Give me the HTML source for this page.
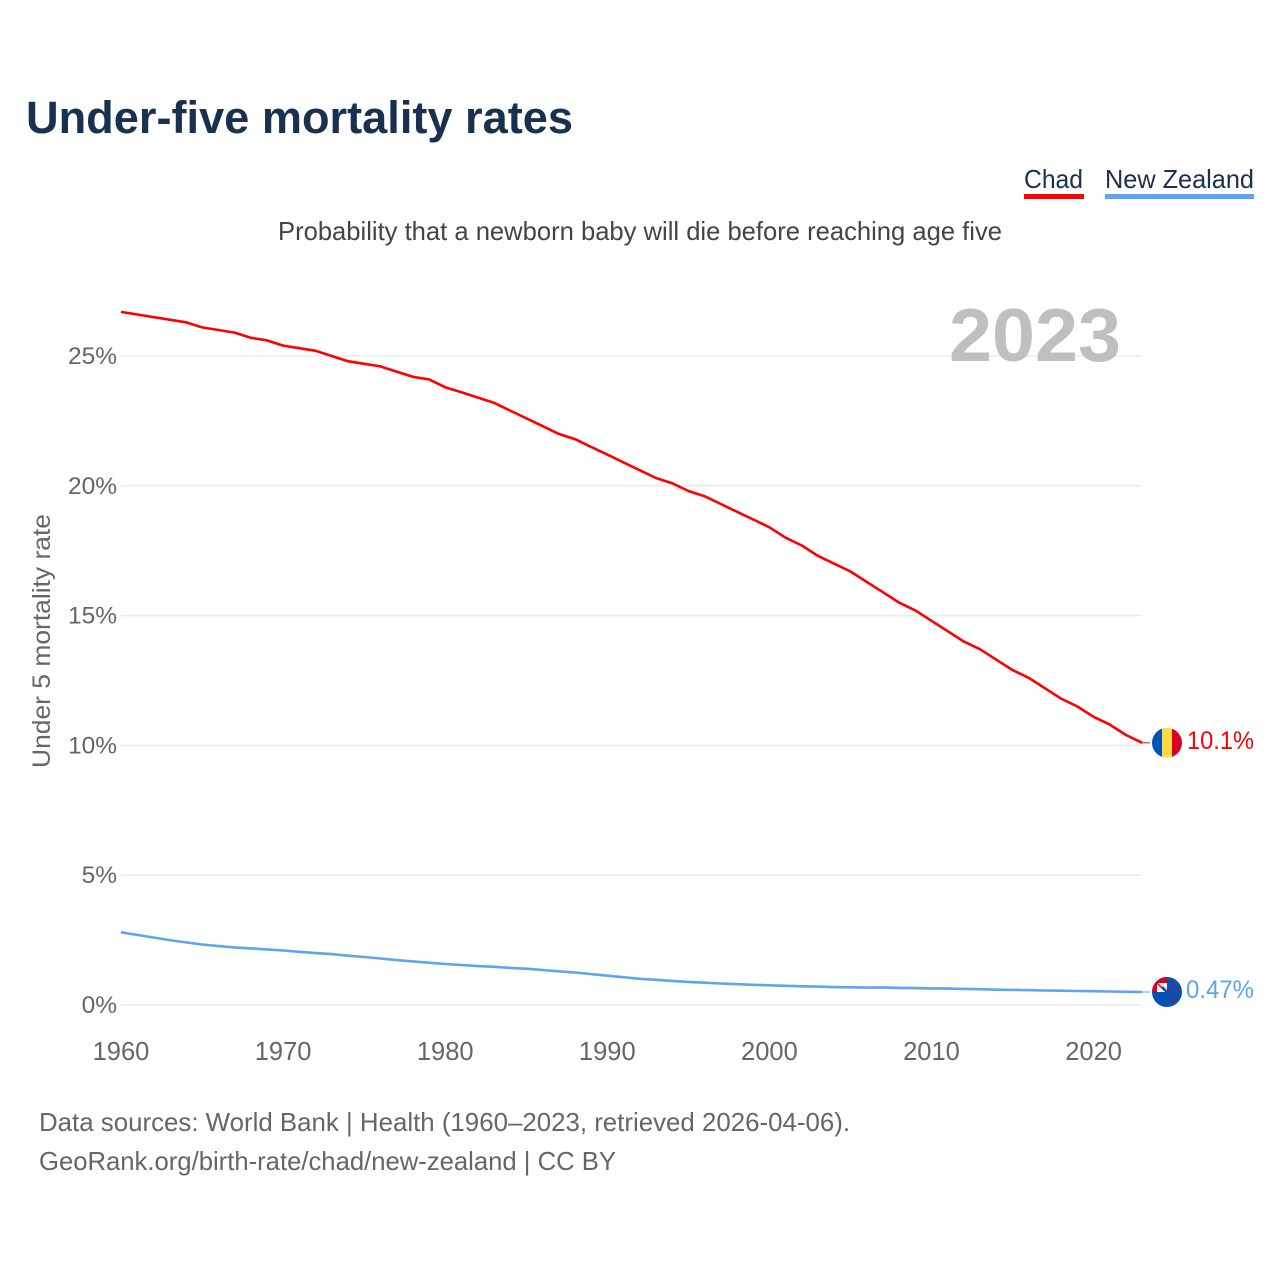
<!DOCTYPE html>
<html lang="en">
<head>
<meta charset="utf-8">
<title>Under-five mortality rates</title>
<style>
html,body{margin:0;padding:0;background:#fff}
svg{display:block}
text{font-family:"Liberation Sans",sans-serif}
</style>
</head>
<body>
<svg id="chart" xmlns="http://www.w3.org/2000/svg" width="1280" height="1280" viewBox="0 0 1280 1280">
  <defs>
    <clipPath id="flag-clip"><circle cx="0" cy="0" r="15"></circle></clipPath>
  </defs>
  <text x="26" y="133" font-size="45" font-weight="700" fill="#19304f" textLength="547" lengthAdjust="spacingAndGlyphs">Under-five mortality rates</text>
  <g>
    <text x="1024" y="188" font-size="26" fill="#19304f" textLength="59" lengthAdjust="spacingAndGlyphs">Chad</text>
    <rect x="1024" y="194" width="60" height="5" fill="#ff0000"></rect>
  </g>
  <g>
    <text x="1105" y="188" font-size="26" fill="#19304f" textLength="149" lengthAdjust="spacingAndGlyphs">New Zealand</text>
    <rect x="1105" y="194" width="149" height="5" fill="#5fa5ec"></rect>
  </g>
  <text x="278" y="240" font-size="26" fill="#444444" textLength="724" lengthAdjust="spacingAndGlyphs">Probability that a newborn baby will die before reaching age five</text>
  <g id="grid"></g>
  <text x="949" y="361" font-size="75" font-weight="700" fill="#bfbfbf" textLength="172" lengthAdjust="spacingAndGlyphs">2023</text>
  <text transform="translate(50,768) rotate(-90)" font-size="25" fill="#666666" textLength="254" lengthAdjust="spacingAndGlyphs">Under 5 mortality rate</text>
  <g id="yticks"></g>
  <g id="xticks"></g>
  <g id="series"></g>
  <g id="flag-chad">
    <g clip-path="url(#flag-clip)">
      <rect x="-15" y="-15" width="10" height="30" fill="#0052b4"></rect>
      <rect x="-5" y="-15" width="10" height="30" fill="#ffda44"></rect>
      <rect x="5" y="-15" width="10" height="30" fill="#d80027"></rect>
    </g>
  </g>
  <g id="flag-nz">
    <g clip-path="url(#flag-clip)">
      <rect x="-15" y="-15" width="30" height="30" fill="#0052b4"></rect>
      <rect x="-15" y="-15" width="15" height="15" fill="#d80027"></rect>
      <rect x="-10" y="-9" width="10" height="9" fill="#f0f0f0"></rect>
      <path d="M-10 -9L-2 -1" stroke="#d80027" stroke-width="1.5"></path>
      <path d="M-5 -5L0 0" stroke="#0052b4" stroke-width="2.5"></path>
      <circle cx="6" cy="-7" r="1.4" fill="#d80027"></circle>
      <circle cx="11" cy="-2" r="1.3" fill="#d80027"></circle>
      <circle cx="1" cy="-1" r="1.4" fill="#d80027"></circle>
      <circle cx="6" cy="7" r="1.7" fill="#d80027"></circle>
    </g>
  </g>
  <text id="label-chad" x="1187" y="749" font-size="25" fill="#ff0000" textLength="67" lengthAdjust="spacingAndGlyphs"></text>
  <text id="label-nz" x="1186" y="999" font-size="25" fill="#5fa5ec" textLength="68" lengthAdjust="spacingAndGlyphs"></text>
  <text x="39" y="1131" font-size="26" fill="#666666" textLength="811" lengthAdjust="spacingAndGlyphs">Data sources: World Bank | Health (1960–2023, retrieved 2026-04-06).</text>
  <text x="39" y="1170" font-size="26" fill="#666666" textLength="577" lengthAdjust="spacingAndGlyphs">GeoRank.org/birth-rate/chad/new-zealand | CC BY</text>
</svg>
<script>
const startYear = 1960;
const chadValues = [26.7,26.6,26.5,26.4,26.3,26.1,26.0,25.9,25.7,25.6,25.4,25.3,25.2,25.0,24.8,24.7,24.6,24.4,24.2,24.1,23.8,23.6,23.4,23.2,22.9,22.6,22.3,22.0,21.8,21.5,21.2,20.9,20.6,20.3,20.1,19.8,19.6,19.3,19.0,18.7,18.4,18.0,17.7,17.3,17.0,16.7,16.3,15.9,15.5,15.2,14.8,14.4,14.0,13.7,13.3,12.9,12.6,12.2,11.8,11.5,11.1,10.8,10.4,10.1];
const nzValues = [2.8,2.7,2.6,2.5,2.41,2.33,2.27,2.22,2.18,2.14,2.1,2.05,2.0,1.96,1.9,1.85,1.79,1.73,1.68,1.63,1.58,1.54,1.5,1.47,1.43,1.4,1.35,1.3,1.25,1.19,1.13,1.07,1.01,0.97,0.93,0.89,0.86,0.83,0.8,0.78,0.76,0.74,0.72,0.71,0.69,0.68,0.67,0.67,0.66,0.65,0.64,0.63,0.62,0.61,0.59,0.58,0.57,0.56,0.55,0.54,0.53,0.52,0.51,0.5];
const xTickYears = [1960,1970,1980,1990,2000,2010,2020];
const yTickValues = [0,5,10,15,20,25];
const chadLabel = "10.1%";
const nzLabel = "0.47%";

const NS = 'http://www.w3.org/2000/svg';
function xScale(year){ return 121 + (year - 1960) * 16.21; }
function yScale(v){ return 1005 - v * 25.96; }
function make(tag, parent){
  const el = document.createElementNS(NS, tag);
  parent.appendChild(el);
  return el;
}

const grid = document.getElementById('grid');
const yticks = document.getElementById('yticks');
yTickValues.forEach(function(v){
  const line = make('rect', grid);
  
  
  line.setAttribute('x', xScale(1960));
  line.setAttribute('y', yScale(v) - 0.75);
  line.setAttribute('width', xScale(2023) - xScale(1960) - 1);
  line.setAttribute('height', 1.5);
  line.setAttribute('fill', '#ebebeb');
  const t = make('text', yticks);
  
  
  t.setAttribute('x', 117);
  t.setAttribute('y', yScale(v) + 8);
  t.setAttribute('text-anchor', 'end');
  t.setAttribute('font-size', '24.5');
  t.setAttribute('fill', '#666666');
  t.textContent = v + '%';
});

const xticks = document.getElementById('xticks');
xTickYears.forEach(function(y){
  const t = make('text', xticks);
  
  
  t.setAttribute('x', xScale(y));
  t.setAttribute('y', 1060);
  t.setAttribute('text-anchor', 'middle');
  t.setAttribute('font-size', '25.5');
  t.setAttribute('fill', '#666666');
  t.textContent = y;
});

function drawSeries(values, color, name){
  const pts = values.map(function(v, i){
    return xScale(startYear + i).toFixed(1) + ',' + yScale(v).toFixed(1);
  });
  const lastY = yScale(values[values.length - 1]);
  const line = make('polyline', document.getElementById('series'));
  
  
  line.setAttribute('points', pts.join(' '));
  line.setAttribute('fill', 'none');
  line.setAttribute('stroke', color);
  line.setAttribute('stroke-width', '2.6');
  line.setAttribute('stroke-linejoin', 'round');
  const lead = make('line', document.getElementById('series'));
  
  
  lead.setAttribute('x1', xScale(startYear + values.length - 1));
  lead.setAttribute('x2', 1150);
  lead.setAttribute('y1', lastY);
  lead.setAttribute('y2', lastY);
  lead.setAttribute('stroke', color);
  lead.setAttribute('stroke-width', '1');
  return lastY;
}
const chadEnd = drawSeries(chadValues, '#ff0000', 'series-line-chad');
const nzEnd = drawSeries(nzValues, '#5fa5ec', 'series-line-new-zealand');

document.getElementById('flag-chad').setAttribute('transform', 'translate(1167,' + chadEnd + ')');
document.getElementById('flag-nz').setAttribute('transform', 'translate(1167,' + nzEnd + ')');
const lc = document.getElementById('label-chad');
lc.textContent = chadLabel;
lc.setAttribute('y', chadEnd + 6);
const ln = document.getElementById('label-nz');
ln.textContent = nzLabel;
ln.setAttribute('y', nzEnd + 6);
</script>
</body>
</html>
